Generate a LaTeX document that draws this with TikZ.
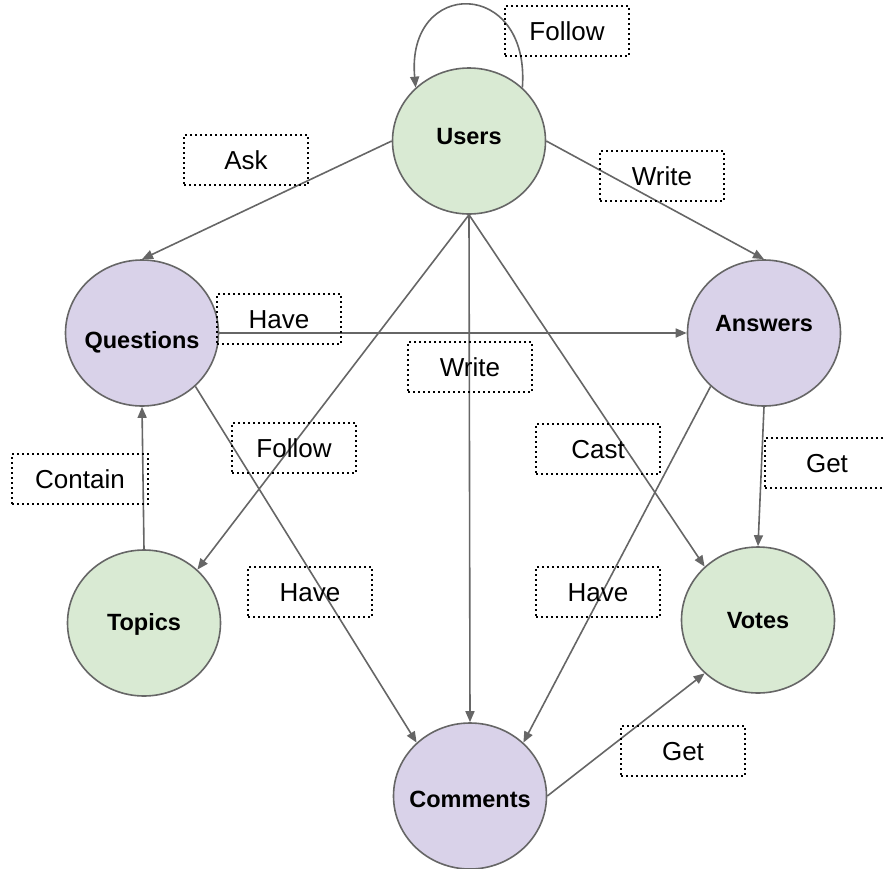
\documentclass[tikz,border=0pt]{standalone}
\usepackage{fontspec}
\setmainfont{Liberation Sans}
\usetikzlibrary{shapes.geometric,arrows.meta}
\definecolor{userGreen}{HTML}{D9EAD3}
\definecolor{postPurple}{HTML}{D9D2E9}
\definecolor{edgeGray}{HTML}{666666}
\tikzset{
    entitytext/.style={inner sep=0pt,text height=16.8pt,text depth=0pt,
        font=\fontsize{23.5}{28}\selectfont\bfseries},
    entity/.style 2 args={ellipse,draw=edgeGray,line width=1.6pt,
        minimum width=153pt,minimum height=146pt,inner sep=0pt,
        label={[entitytext,yshift=#2]center:#1}},
    verb/.style={draw,line width=1.8pt,dash pattern=on 1.8pt off 3.2pt,
        minimum width=124pt,minimum height=50pt,inner sep=0pt,
        text height=18.6pt,text depth=0pt,font=\fontsize{26}{31}\selectfont},
    link/.style={draw=edgeGray,line width=1.6pt,-{Triangle[length=11pt,width=9pt]}},
}
\begin{document}
\begin{tikzpicture}[x=1pt,y=-1pt]
    \useasboundingbox (0,0) rectangle (884,868);
    % entities
    \node[entity={Users}{5pt},fill=userGreen] (users) at (469,141) {};
    \node[entity={Questions}{-7pt},fill=postPurple] (questions) at (142,333) {};
    \node[entity={Answers}{10pt},fill=postPurple] (answers) at (764,333) {};
    \node[entity={Topics}{1pt},fill=userGreen] (topics) at (144,623) {};
    \node[entity={Votes}{0pt},fill=userGreen] (votes) at (758,620) {};
    \node[entity={Comments}{-3pt},fill=postPurple] (comments) at (470,796) {};
    % relations
    \draw[link] (users.45) .. controls +(8,-110) and +(-10,-110) .. (users.135);
    \draw[link] (users.west) -- (questions.north);
    \draw[link] (users.east) -- (answers.north);
    \draw[link] (questions.east) -- (answers.west);
    \draw[link] (users.south) -- (topics.45);
    \draw[link] (users.south) -- (comments.north);
    \draw[link] (users.south) -- (votes.135);
    \draw[link] (questions.-45) -- (comments.135);
    \draw[link] (topics.north) -- (questions.south);
    \draw[link] (answers.south) -- (votes.north);
    \draw[link] (answers.-135) -- (comments.45);
    \draw[link] (comments.east) -- (votes.-135);
    % labels
    \node[verb] (followSelf) at (567,31) {Follow};
    \node[verb] (ask) at (246,160) {Ask};
    \node[verb] (writeAnswer) at (662,176) {Write};
    \node[verb] (haveAnswer) at (279,319) {Have};
    \node[verb] (writeComment) at (470,367) {Write};
    \node[verb] (followTopic) at (294,448) {Follow};
    \node[verb] (cast) at (598,449) {Cast};
    \node[verb] (getVote) at (827,463) {Get};
    \node[verb,minimum width=136pt] (contain) at (80,479) {Contain};
    \node[verb] (haveQComment) at (310,592) {Have};
    \node[verb] (haveAComment) at (598,592) {Have};
    \node[verb] (getCVote) at (683,751) {Get};
\end{tikzpicture}
\end{document}
